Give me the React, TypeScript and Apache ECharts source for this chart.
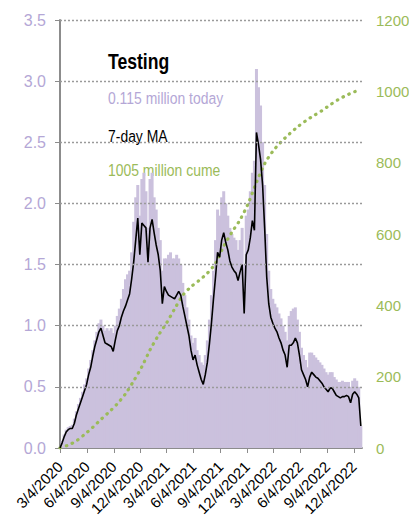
import React, { useEffect, useRef } from "react";
import * as echarts from "echarts";

// Weekly samples starting 3/4/2020 (one value per 7 days), millions of tests per day
const dailyTests = [
  0.01, 0.06, 0.11, 0.15, 0.17, 0.18, 0.19, 0.24, 0.30, 0.36,
  0.41, 0.46, 0.52, 0.57, 0.65, 0.72, 0.80, 0.88, 0.95, 1.02,
  1.05, 1.00, 0.96, 0.98, 0.96, 0.98, 0.94, 1.00, 1.08, 1.14,
  1.22, 1.30, 1.38, 1.42, 1.45, 1.60, 1.85, 2.05, 2.15, 1.90,
  2.20, 2.25, 2.10, 1.80, 2.20, 2.25, 2.05, 1.95, 1.80, 1.70,
  1.45, 1.55, 1.55, 1.58, 1.60, 1.55, 1.55, 1.58, 1.55, 1.50,
  1.35, 1.25, 1.15, 1.05, 0.92, 0.86, 0.90, 0.80, 0.76, 0.70,
  0.68, 0.76, 0.88, 1.05, 1.25, 1.45, 1.70, 1.95, 1.90, 2.05,
  2.10, 2.00, 1.90, 1.80, 1.75, 1.72, 1.70, 1.62, 1.70, 1.80,
  1.50, 1.90, 1.95, 2.10, 2.25, 2.35, 3.10, 2.95, 2.80, 2.50,
  2.15, 1.75, 1.45, 1.30, 1.22, 1.18, 1.15, 1.10, 1.06, 1.00,
  0.95, 0.88, 1.08, 1.12, 1.14, 1.15, 1.05, 0.95, 0.82, 0.76,
  0.72, 0.66, 0.78, 0.78, 0.76, 0.74, 0.72, 0.70, 0.68, 0.65,
  0.62, 0.60, 0.62, 0.62, 0.58, 0.56, 0.54, 0.54, 0.55, 0.54,
  0.54, 0.54, 0.50, 0.55, 0.57, 0.55, 0.50, 0.18,
];

const movingAvg = [
  0.00, 0.04, 0.09, 0.13, 0.15, 0.16, 0.16, 0.20, 0.27, 0.32,
  0.37, 0.42, 0.47, 0.52, 0.60, 0.66, 0.75, 0.83, 0.89, 0.95,
  0.98, 0.92, 0.86, 0.85, 0.84, 0.83, 0.79, 0.88, 0.96, 1.00,
  1.07, 1.12, 1.16, 1.21, 1.26, 1.38, 1.52, 1.70, 1.88, 1.58,
  1.84, 1.82, 1.80, 1.52, 1.80, 1.87, 1.76, 1.66, 1.58, 1.45,
  1.18, 1.32, 1.28, 1.25, 1.24, 1.23, 1.22, 1.25, 1.28, 1.25,
  1.16, 1.08, 1.00, 0.92, 0.80, 0.72, 0.76, 0.68, 0.62, 0.56,
  0.52, 0.60, 0.70, 0.85, 1.02, 1.22, 1.40, 1.60, 1.56, 1.70,
  1.76, 1.68, 1.62, 1.53, 1.48, 1.45, 1.43, 1.37, 1.44, 1.50,
  1.10, 1.58, 1.62, 1.72, 1.86, 1.78, 2.58, 2.48, 2.36, 2.15,
  1.80, 1.40, 1.18, 1.07, 1.02, 0.98, 0.95, 0.90, 0.86, 0.80,
  0.76, 0.66, 0.84, 0.84, 0.86, 0.90, 0.86, 0.76, 0.64, 0.60,
  0.56, 0.50, 0.58, 0.62, 0.60, 0.58, 0.57, 0.55, 0.53, 0.50,
  0.48, 0.46, 0.49, 0.49, 0.46, 0.43, 0.42, 0.41, 0.42, 0.42,
  0.43, 0.42, 0.37, 0.44, 0.46, 0.44, 0.41, 0.18,
];

// Cumulative tests (millions), at week offsets from 3/4/2020
const cumeWeeks = [
  0, 4, 8, 12, 16, 20, 24, 28, 32, 36, 40, 44, 48, 52, 56, 60, 64, 68, 72,
  76, 80, 84, 88, 92, 96, 100, 104, 108, 112, 116, 120, 124, 128, 132, 136,
  140, 144, 147,
];
const cumeValues = [
  0, 8, 20, 38, 58, 80, 101, 124, 152, 188, 228, 275, 315, 350, 390, 428,
  452, 470, 490, 518, 566, 605, 640, 686, 745, 797, 832, 858, 880, 900, 917,
  932, 946, 962, 977, 989, 999, 1005,
];

const tickLabels = [
  "3/4/2020", "6/4/2020", "9/4/2020", "12/4/2020", "3/4/2021", "6/4/2021",
  "9/4/2021", "12/4/2021", "3/4/2022", "6/4/2022", "9/4/2022", "12/4/2022",
];

const leftTicks = ["0.0", "0.5", "1.0", "1.5", "2.0", "2.5", "3.0", "3.5"];

const titleText = "Testing";
const todayText = "0.115 million today";
const maText = "7-day MA";
const cumeText = "1005 million cume";

const FONT = "'Liberation Sans', Arial, sans-serif";
const LAVENDER = "#b4a7d6";
const BAR = "#cbc1dd";
const GREEN = "#9bbb59";
const GRID = "#9a9a9a";
const DAY = 86400000;

function parseDate(s: string): number {
  const [m, d, y] = s.split("/").map(Number);
  return Date.UTC(y, m - 1, d);
}

const START = parseDate(tickLabels[0]);
// day offsets of the tick dates from the first date
const tickDays = tickLabels.map((s) => Math.round((parseDate(s) - START) / DAY));

export default function App() {
  const ref = useRef<HTMLDivElement>(null);

  useEffect(() => {
    if (!ref.current) return;
    const chart = echarts.init(ref.current, undefined, { renderer: "svg" });
    const weekX = (i: number) => i * 7;

    chart.setOption({
      animation: false,
      textStyle: { fontFamily: FONT },
      grid: {
        left: 60,
        right: 47,
        top: 20,
        bottom: 77,
        containLabel: false,
        outerBoundsMode: "none",
      },
      xAxis: {
        type: "value",
        min: 0,
        max: 1033,
        axisLine: { show: true, onZero: false, lineStyle: { color: "#8c8c8c", width: 2 } },
        axisTick: {
          show: true,
          customValues: tickDays,
          length: 5,
          lineStyle: { color: "#8c8c8c", width: 1 },
        },
        axisLabel: {
          customValues: tickDays,
          rotate: 45,
          margin: 16,
          color: "#000",
          fontSize: 15,
          fontFamily: FONT,
          formatter: (v: number) => {
            const idx = tickDays.indexOf(Math.round(v));
            return idx >= 0 ? tickLabels[idx] : "";
          },
        },
        splitLine: { show: false },
      },
      yAxis: [
        {
          type: "value",
          min: 0,
          max: 3.5,
          interval: 0.5,
          axisLine: { show: true, lineStyle: { color: "#8c8c8c", width: 2 } },
          axisTick: { show: true, length: 5, lineStyle: { color: "#8c8c8c" } },
          axisLabel: {
            color: LAVENDER,
            fontSize: 16,
            margin: 14,
            fontFamily: FONT,
            formatter: (v: number) => leftTicks[Math.round(v / 0.5)] ?? "",
          },
          splitLine: { show: false },
        },
        {
          type: "value",
          min: 0,
          max: 1200,
          interval: 200,
          position: "right",
          axisLine: { show: false },
          axisTick: { show: false },
          axisLabel: {
            color: GREEN,
            fontSize: 15,
            margin: 14,
            fontFamily: FONT,
            formatter: (v: number) => String(v),
          },
          splitLine: { show: false },
        },
      ],
      series: [
        {
          // horizontal dotted gridlines at the left-axis tick values
          name: "grid",
          type: "line",
          yAxisIndex: 0,
          symbol: "none",
          silent: true,
          lineStyle: { opacity: 0 },
          data: movingAvg.map((v, i) => [weekX(i), v]),
          z: 0,
          markLine: {
            silent: true,
            symbol: ["none", "none"],
            label: { show: false },
            lineStyle: { color: GRID, type: [2, 2], width: 1.4, opacity: 1 },
            data: leftTicks.slice(1).map((t) => ({ yAxis: parseFloat(t) })),
          },
        },
        {
          name: "daily",
          type: "bar",
          yAxisIndex: 0,
          barWidth: 3,
          itemStyle: { color: BAR },
          data: dailyTests.map((v, i) => [weekX(i), v]),
          z: 1,
        },
        {
          name: "cume",
          type: "line",
          yAxisIndex: 1,
          symbol: "none",
          smooth: 0.3,
          lineStyle: { color: GREEN, width: 3.2, type: [0.5, 6], cap: "round" },
          data: cumeWeeks.map((w, i) => [weekX(w), cumeValues[i]]),
          z: 3,
        },
        {
          name: "ma",
          type: "line",
          yAxisIndex: 0,
          symbol: "none",
          lineStyle: { color: "#000", width: 1.6 },
          data: movingAvg.map((v, i) => [weekX(i), v]),
          z: 4,
        },
      ],
      graphic: [
        {
          type: "text",
          x: 108,
          y: 50,
          scaleX: 0.8,
          style: {
            text: titleText,
            fontSize: 22,
            fontWeight: "bold",
            fontFamily: FONT,
            fill: "#000",
            verticalAlign: "top",
          },
        },
        {
          type: "text",
          x: 108,
          y: 89,
          scaleX: 0.82,
          style: { text: todayText, fontSize: 17, fontFamily: FONT, fill: LAVENDER, verticalAlign: "top" },
        },
        {
          type: "text",
          x: 108,
          y: 127,
          scaleX: 0.82,
          style: { text: maText, fontSize: 17, fontFamily: FONT, fill: "#000", verticalAlign: "top" },
        },
        {
          type: "text",
          x: 108,
          y: 161,
          scaleX: 0.82,
          style: { text: cumeText, fontSize: 17, fontFamily: FONT, fill: GREEN, verticalAlign: "top" },
        },
      ],
    });
    return () => chart.dispose();
  }, []);

  return (
    <div
      ref={ref}
      style={{ position: "fixed", left: 0, top: 0, width: 409, height: 525, background: "#fff" }}
    />
  );
}
